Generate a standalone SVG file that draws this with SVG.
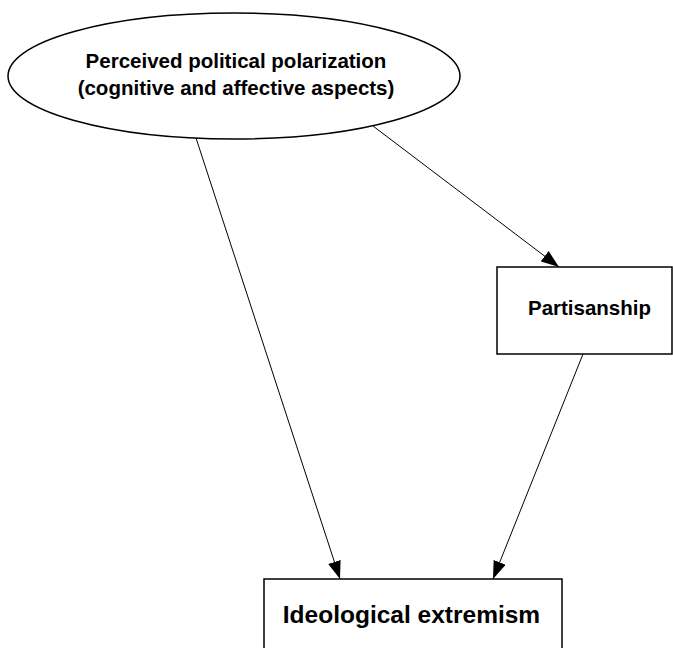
<svg xmlns="http://www.w3.org/2000/svg" width="673" height="648" viewBox="0 0 673 648">
  <style>
    .node { fill: #ffffff; stroke: #000000; stroke-width: 1.5; }
    .label { font-family: "Liberation Sans", Arial, sans-serif; font-weight: bold; fill: #000000; text-anchor: middle; }
    .edge { stroke: #000000; stroke-width: 1; fill: none; marker-end: url(#arrow); }
  </style>
  <defs>
    <marker id="arrow" markerUnits="userSpaceOnUse" markerWidth="18" markerHeight="13" refX="18" refY="6.5" orient="auto">
      <path d="M0,0 L18,6.5 L0,13 Z" fill="#000000"/>
    </marker>
  </defs>
  <rect width="673" height="648" fill="#ffffff"/>

  <g id="connectors">
    <line class="edge" x1="196" y1="138" x2="340" y2="579"/>
    <line class="edge" x1="373" y1="126" x2="559" y2="267"/>
    <line class="edge" x1="583" y1="354" x2="493" y2="579"/>
  </g>

  <g id="polarization">
    <ellipse class="node" cx="234" cy="76" rx="226" ry="63"/>
    <text class="label" x="236" y="68" font-size="20.5">Perceived political polarization</text>
    <text class="label" x="236" y="95" font-size="20.5">(cognitive and affective aspects)</text>
  </g>

  <g id="partisanship">
    <rect class="node" x="497" y="267" width="175" height="87"/>
    <text class="label" x="589.5" y="315" font-size="20.5">Partisanship</text>
  </g>

  <g id="extremism">
    <rect class="node" x="264" y="579" width="298" height="90"/>
    <text class="label" x="411.5" y="623" font-size="24.5">Ideological extremism</text>
  </g>
</svg>
